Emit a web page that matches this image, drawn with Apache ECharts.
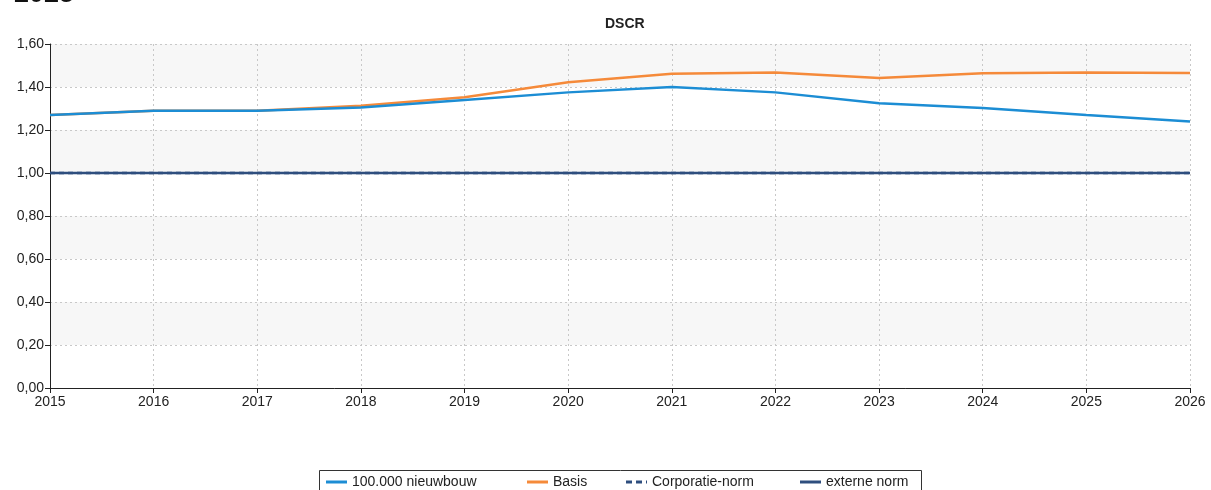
<!DOCTYPE html>
<html>
<head>
<meta charset="utf-8">
<script src="https://cdn.jsdelivr.net/npm/echarts@6/dist/echarts.min.js"></script>
<style>
  html, body { margin: 0; padding: 0; background: #fff; }
  #chart { width: 1211px; height: 490px; }
</style>
</head>
<body>
<div id="chart"></div>
<script>
const years = ['2015', '2016', '2017', '2018', '2019', '2020', '2021', '2022', '2023', '2024', '2025', '2026'];
const nieuwbouw = [1.27, 1.29, 1.29, 1.305, 1.34, 1.375, 1.40, 1.375, 1.324, 1.302, 1.27, 1.24];
const basis = [1.27, 1.29, 1.29, 1.313, 1.352, 1.422, 1.462, 1.467, 1.442, 1.464, 1.468, 1.465];
const corporatieNorm = [1.0, 1.0, 1.0, 1.0, 1.0, 1.0, 1.0, 1.0, 1.0, 1.0, 1.0, 1.0];
const externeNorm = [1.0, 1.0, 1.0, 1.0, 1.0, 1.0, 1.0, 1.0, 1.0, 1.0, 1.0, 1.0];
const seriesNames = ['100.000 nieuwbouw', 'Basis', 'Corporatie-norm', 'externe norm'];

const fontFam = 'Liberation Sans, Arial, sans-serif';
const solidIcon = 'path://M0,0H21V3H0Z';
const dashIcon = 'path://M0,0H6V3H0Z M10,0H16V3H10Z M20,0H21V3H20Z';
const legendLefts = [326, 527, 626, 800];
const legendIcons = [solidIcon, solidIcon, dashIcon, solidIcon];

const chart = echarts.init(document.getElementById('chart'));

const lineSeries = (name, data, color, type, z) => ({
  name, type: 'line', data, symbol: 'none', z,
  lineStyle: { color, width: 2.5, type },
  itemStyle: { color },
  emphasis: { disabled: true },
});

// one legend per item so each sits in its own column, like the reference box
const legends = seriesNames.map((n, i) => ({
  left: legendLefts[i], top: 475, padding: 0,
  itemWidth: 21, itemHeight: 3, itemGap: 0,
  textStyle: { fontSize: 14, color: '#222', fontFamily: fontFam },
  data: [{ name: n, icon: legendIcons[i] }],
}));

chart.setOption({
  animation: false,
  title: {
    text: 'DSCR', left: 600, top: 12,
    textStyle: { fontSize: 14, fontWeight: 'bold', color: '#222', fontFamily: fontFam },
  },
  graphic: [
    {
      type: 'text', left: 14, top: -19,
      style: { text: '2025', fontSize: 27, fontWeight: 'bold', fill: '#111', fontFamily: fontFam },
    },
    {
      type: 'rect', shape: { x: 319.5, y: 470.5, width: 602, height: 30 },
      style: { fill: 'none', stroke: '#333', lineWidth: 1 },
    },
  ],
  legend: legends,
  grid: { left: 50, right: 21, top: 44, bottom: 102 },
  xAxis: {
    type: 'category', data: years, boundaryGap: false,
    axisLine: { lineStyle: { color: '#222', width: 1 } },
    axisTick: { show: true, length: 5, lineStyle: { color: '#222' } },
    axisLabel: { fontSize: 14, color: '#222', margin: 7, fontFamily: fontFam },
    splitLine: { show: true, lineStyle: { color: '#c8c8c8', type: [2, 3] } },
  },
  yAxis: {
    type: 'value', min: 0, max: 1.6, interval: 0.2,
    axisLine: { show: true, lineStyle: { color: '#222', width: 1 } },
    axisTick: { show: true, length: 5, lineStyle: { color: '#222' } },
    axisLabel: {
      fontSize: 14, color: '#222', margin: 6, fontFamily: fontFam,
      formatter: v => v.toFixed(2).replace('.', ','),
    },
    splitLine: { show: true, lineStyle: { color: '#c8c8c8', type: [2, 3] } },
    splitArea: { show: true, areaStyle: { color: ['#ffffff', '#f7f7f7'] } },
  },
  series: [
    lineSeries(seriesNames[0], nieuwbouw, '#1c8dd4', 'solid', 4),
    lineSeries(seriesNames[1], basis, '#f58a3a', 'solid', 3),
    lineSeries(seriesNames[2], corporatieNorm, '#2e4e7e', [5, 4], 2),
    lineSeries(seriesNames[3], externeNorm, '#2e4e7e', 'solid', 5),
  ],
});
</script>
</body>
</html>
